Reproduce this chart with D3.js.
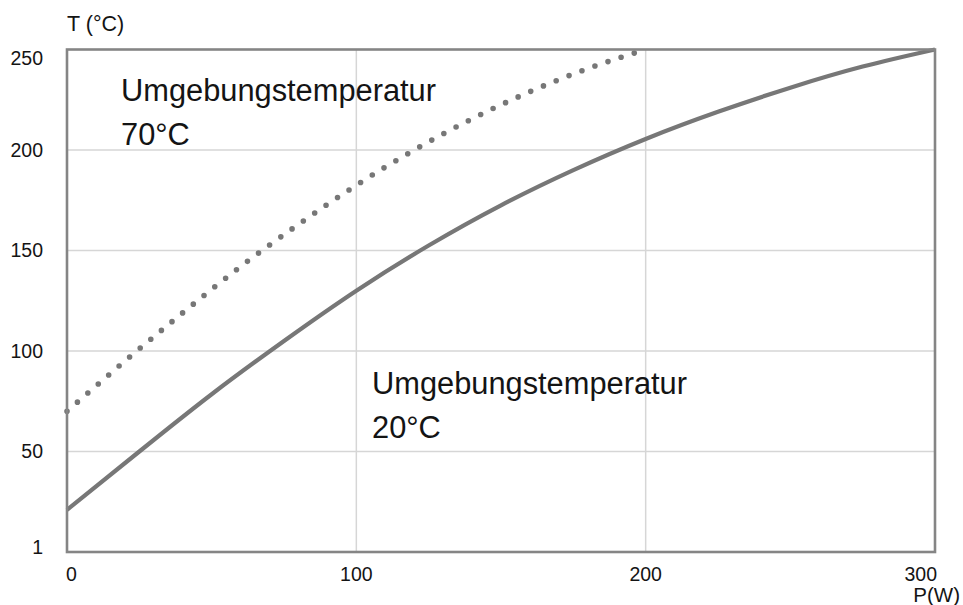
<!DOCTYPE html>
<html>
<head>
<meta charset="utf-8">
<script src="https://cdn.jsdelivr.net/npm/d3@7"></script>
<style>
  html, body { margin: 0; padding: 0; background: #ffffff; }
  svg { display: block; font-family: "Liberation Sans", Arial, sans-serif; }
</style>
</head>
<body>
<svg id="chart" width="963" height="605"></svg>
<script>
// Power axis (W) and temperature axis (°C)
const xTickValues = [0, 100, 200, 300];
const xTickLabels = ["0", "100", "200", "300"];
const yTickValues = [1, 50, 100, 150, 200, 250];
const yTickLabels = ["1", "50", "100", "150", "200", "250"];
const yGridValues = [50, 100, 150, 200];
const xGridValues = [100, 200];

// Ambient 20 °C
const power20 = [0, 25, 50, 75, 100, 125, 150, 175, 200, 225, 250, 275, 300];
const temp20  = [21, 50, 78.5, 105, 130, 152.5, 172.5, 190, 205.5, 219, 231, 241.5, 250];

// Ambient 70 °C
const power70 = [0, 20, 40, 60, 80, 100, 120, 140, 160, 180, 200];
const temp70  = [70, 95, 119, 142, 163, 182.5, 200, 215.5, 229, 240.5, 250];

const svg = d3.select("#chart");
const margin = { left: 67, right: 28, top: 49.5, bottom: 53 };
const W = 963, H = 605;

const x = d3.scaleLinear().domain([0, 300]).range([margin.left, W - margin.right]);
const y = d3.scaleLinear().domain([0, 250]).range([H - margin.bottom, margin.top]);

const gridColor = "#d6d6d6";
const lineColor = "#777777";
const frameColor = "#858585";
const textColor = "#141414";

// grid
svg.append("g").selectAll("line.h").data(yGridValues).join("line")
  .attr("x1", x(0)).attr("x2", x(300))
  .attr("y1", d => y(d)).attr("y2", d => y(d))
  .attr("stroke", gridColor).attr("stroke-width", 1.5);
svg.append("g").selectAll("line.v").data(xGridValues).join("line")
  .attr("x1", d => x(d)).attr("x2", d => x(d))
  .attr("y1", y(0)).attr("y2", y(250))
  .attr("stroke", gridColor).attr("stroke-width", 1.5);

// curves
const line = d3.line().curve(d3.curveNatural);

svg.append("path")
  .attr("d", line(power70.map((p, i) => [x(p), y(temp70[i])])))
  .attr("fill", "none")
  .attr("stroke", lineColor)
  .attr("stroke-width", 5.6)
  .attr("stroke-linecap", "round")
  .attr("stroke-dasharray", "0 13.8");

svg.append("path")
  .attr("d", line(power20.map((p, i) => [x(p), y(temp20[i])])))
  .attr("fill", "none")
  .attr("stroke", lineColor)
  .attr("stroke-width", 4.2);

// frame
svg.append("rect")
  .attr("x", x(0)).attr("y", y(250))
  .attr("width", x(300) - x(0)).attr("height", y(0) - y(250))
  .attr("fill", "none").attr("stroke", frameColor).attr("stroke-width", 2.6);

// y tick labels
const yLabelShift = { 1: -3, 250: 9 };
svg.append("g").selectAll("text").data(yTickValues).join("text")
  .attr("x", 43)
  .attr("y", d => y(d) + (yLabelShift[d] || 0))
  .attr("dy", "0.35em")
  .attr("text-anchor", "end")
  .attr("font-size", 19.5)
  .attr("fill", textColor)
  .text((d, i) => yTickLabels[i]);

// x tick labels
svg.append("g").selectAll("text").data(xTickValues).join("text")
  .attr("x", d => d === 0 ? x(d) - 1 : d === 300 ? x(d) + 2 : x(d))
  .attr("y", 581)
  .attr("text-anchor", d => d === 0 ? "start" : d === 300 ? "end" : "middle")
  .attr("font-size", 19.5)
  .attr("fill", textColor)
  .text((d, i) => xTickLabels[i]);

// axis titles
svg.append("text").attr("x", 67).attr("y", 31)
  .attr("font-size", 21.5).attr("fill", textColor).text("T (°C)");
svg.append("text").attr("x", 960).attr("y", 602).attr("text-anchor", "end")
  .attr("font-size", 20.5).attr("fill", textColor).text("P(W)");

// annotations
function note(px, py, lines) {
  const t = svg.append("text").attr("font-size", 30.8).attr("fill", textColor);
  lines.forEach((s, i) => {
    t.append("tspan").attr("x", px).attr("y", py + i * 44).text(s);
  });
}
note(121, 101, ["Umgebungstemperatur", "70°C"]);
note(372, 394, ["Umgebungstemperatur", "20°C"]);
</script>
</body>
</html>
